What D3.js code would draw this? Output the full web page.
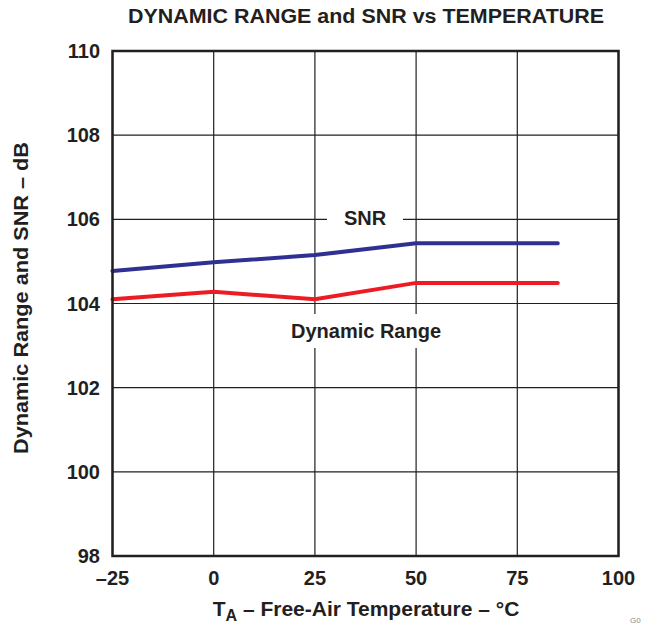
<!DOCTYPE html>
<html><head><meta charset="utf-8">
<script src="https://cdn.jsdelivr.net/npm/d3@7"></script>
<style>body{margin:0;background:#fff}svg{display:block}text{font-family:"Liberation Sans",Arial,sans-serif;font-weight:bold;fill:#231f20}</style>
</head><body>
<svg id="c" width="647" height="625"></svg>
<script>
const temps = [-25, 0, 25, 50, 85];
const snr = [104.77, 104.98, 105.15, 105.43, 105.43];
const dynRange = [104.1, 104.28, 104.1, 104.49, 104.49];
const xTicks = [-25, 0, 25, 50, 75, 100];
const yTicks = [98, 100, 102, 104, 106, 108, 110];

const svg = d3.select("#c");
const L = 112.5, R = 618.5, T = 51, B = 556;
const x = d3.scaleLinear().domain([-25, 100]).range([L, R]);
const y = d3.scaleLinear().domain([98, 110]).range([B, T]);

// grid
const g = svg.append("g");
g.selectAll(".vg").data(xTicks).join("line")
  .attr("x1", d => x(d)).attr("x2", d => x(d)).attr("y1", T).attr("y2", B)
  .attr("stroke", "#231f20").attr("stroke-width", 1.2);
g.selectAll(".hg").data(yTicks).join("line")
  .attr("y1", d => y(d)).attr("y2", d => y(d)).attr("x1", L).attr("x2", R)
  .attr("stroke", "#231f20").attr("stroke-width", 1.2);

// label backgrounds
svg.append("rect").attr("x", 327).attr("y", 203).attr("width", 76).attr("height", 30).attr("fill", "#fff");
svg.append("rect").attr("x", 280).attr("y", 314).attr("width", 172).attr("height", 34).attr("fill", "#fff");

// lines
const line = d3.line().x((d, i) => x(temps[i])).y(d => y(d));
svg.append("path").datum(snr).attr("d", line).attr("fill", "none")
  .attr("stroke", "#2e3192").attr("stroke-width", 4).attr("stroke-linecap", "round");
svg.append("path").datum(dynRange).attr("d", line).attr("fill", "none")
  .attr("stroke", "#ed1c24").attr("stroke-width", 4).attr("stroke-linecap", "round");

// frame
svg.append("rect").attr("x", L).attr("y", T).attr("width", R - L).attr("height", B - T)
  .attr("fill", "none").attr("stroke", "#231f20").attr("stroke-width", 2.5);

// tick labels
svg.selectAll(".yl").data(yTicks).join("text")
  .attr("x", 100).attr("y", d => y(d) + 7).attr("text-anchor", "end")
  .style("font-size", "20px").text(d => d);
svg.selectAll(".xl").data(xTicks).join("text")
  .attr("x", d => x(d)).attr("y", 585).attr("text-anchor", "middle")
  .style("font-size", "20px").text(d => d < 0 ? "\u2013" + Math.abs(d) : d);

// series labels
svg.append("text").attr("x", 365).attr("y", 225).attr("text-anchor", "middle").style("font-size", "20px").text("SNR");
svg.append("text").attr("x", 366).attr("y", 338).attr("text-anchor", "middle").style("font-size", "20px").text("Dynamic Range");

// title
svg.append("text").attr("x", 366).attr("y", 23).attr("text-anchor", "middle").style("font-size", "20px")
  .attr("textLength", 476).attr("lengthAdjust", "spacingAndGlyphs")
  .text("DYNAMIC RANGE and SNR vs TEMPERATURE");

// x axis title
const xt = svg.append("text").attr("x", 366).attr("y", 616).attr("text-anchor", "middle").style("font-size", "21px");
xt.append("tspan").text("T");
xt.append("tspan").attr("dy", 5).style("font-size", "16px").text("A");
xt.append("tspan").attr("dy", -5).text(" \u2013 Free-Air Temperature \u2013 \u00B0C");

// y axis title
svg.append("text").attr("transform", "translate(28,298) rotate(-90)").attr("text-anchor", "middle")
  .style("font-size", "20px").attr("textLength", 312).attr("lengthAdjust", "spacingAndGlyphs")
  .text("Dynamic Range and SNR \u2013 dB");

// corner figure id
svg.append("text").attr("x", 630).attr("y", 623).style("font-size", "8px").style("font-weight", "normal")
  .style("fill", "#888").text("G0");
</script>
</body></html>
